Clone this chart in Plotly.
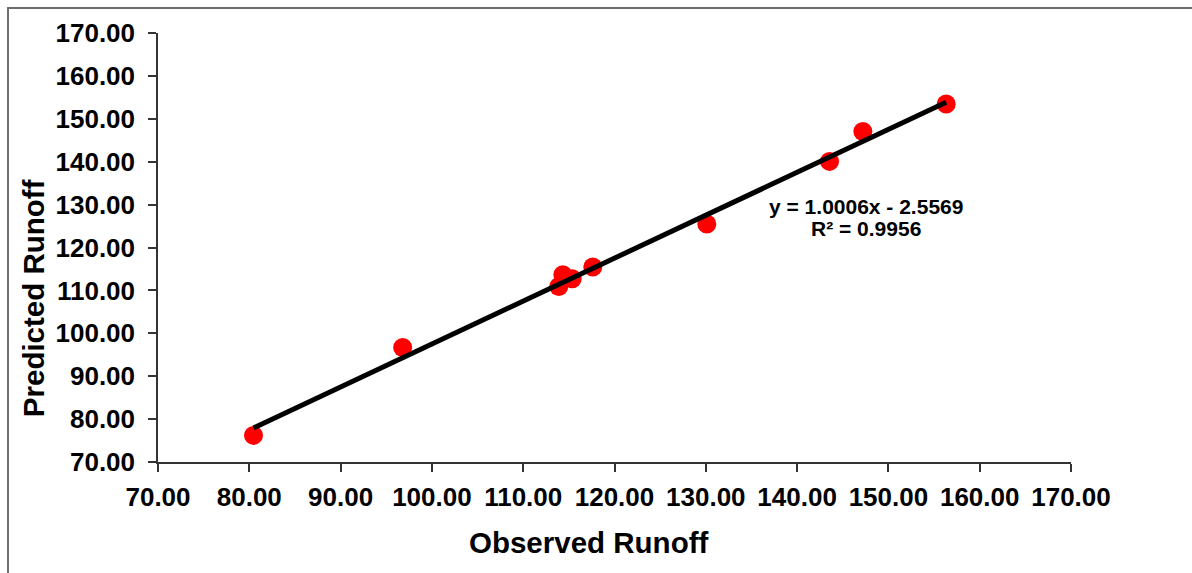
import plotly.graph_objects as go

# Data
observed = [80.46, 96.80, 113.90, 114.34, 115.37, 117.62, 130.11, 143.55, 147.20, 156.33]
predicted = [76.20, 96.70, 110.90, 113.66, 112.73, 115.45, 125.48, 140.07, 147.06, 153.45]

slope = 1.0006
intercept = -2.5569
r_squared = 0.9956

tick_vals = [70, 80, 90, 100, 110, 120, 130, 140, 150, 160, 170]
tick_text = [f"{v:.2f}" for v in tick_vals]

trend_x = [min(observed), max(observed)]
trend_y = [slope * v + intercept for v in trend_x]

FONT = "Liberation Sans, Arial, sans-serif"

fig = go.Figure()
fig.add_trace(go.Scatter(
    x=observed, y=predicted, mode="markers",
    marker=dict(color="#ff0000", size=19, line=dict(width=0)),
    showlegend=False, hoverinfo="x+y"))
fig.add_trace(go.Scatter(
    x=trend_x, y=trend_y, mode="lines",
    line=dict(color="#000000", width=5),
    showlegend=False, hoverinfo="skip"))

axis_common = dict(
    range=[70, 170], tickvals=tick_vals, ticktext=tick_text,
    showgrid=False, zeroline=False,
    showline=True, linecolor="#333333", linewidth=1.5,
    ticks="outside", ticklen=8, tickwidth=1.5, tickcolor="#333333",
    tickfont=dict(family=FONT, size=26, color="#000000", weight="bold"),
    fixedrange=True,
)

fig.update_layout(
    width=1192, height=573,
    margin=dict(l=158, r=121, t=33, b=111, autoexpand=False),
    paper_bgcolor="white", plot_bgcolor="white",
    xaxis=dict(**axis_common, ticklabelstandoff=3),
    yaxis=dict(**axis_common, ticklabelstandoff=8),
    font=dict(family=FONT, color="#000000"),
)

# Axis titles
fig.add_annotation(text="Observed Runoff", xref="paper", yref="paper",
                   x=0.4715, y=-0.188, xanchor="center", yanchor="middle",
                   showarrow=False,
                   font=dict(family=FONT, size=29.5, color="#000000", weight="bold"))
fig.add_annotation(text="Predicted Runoff", xref="paper", yref="paper",
                   x=-0.1364, y=0.383, xanchor="center", yanchor="middle",
                   textangle=-90, showarrow=False,
                   font=dict(family=FONT, size=29.5, color="#000000", weight="bold"))

# Trendline equation
sign = "-" if intercept < 0 else "+"
fig.add_annotation(text=f"y = {slope:.4f}x {sign} {abs(intercept):.4f}",
                   xref="paper", yref="paper", x=0.776, y=0.595,
                   xanchor="center", yanchor="middle", showarrow=False,
                   font=dict(family=FONT, size=21, color="#000000", weight="bold"))
fig.add_annotation(text=f"R² = {r_squared:.4f}",
                   xref="paper", yref="paper", x=0.776, y=0.544,
                   xanchor="center", yanchor="middle", showarrow=False,
                   font=dict(family=FONT, size=21, color="#000000", weight="bold"))

# Chart frame (partially cut off at right and bottom)
fig.add_shape(type="rect", xref="paper", yref="paper",
              x0=(8 - 158) / 913, x1=(1210 - 158) / 913,
              y0=-(590 - 462) / 429, y1=1 + (33 - 8) / 429,
              line=dict(color="#6e6e6e", width=2), fillcolor="rgba(0,0,0,0)",
              layer="below")

fig.write_html("out.html",
               config={"displayModeBar": False},
               post_script="document.body.style.margin='0';document.body.style.padding='0';")
